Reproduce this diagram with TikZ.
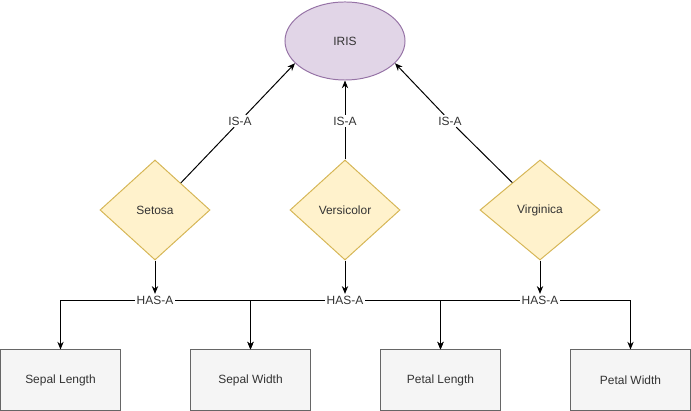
\documentclass[tikz,border=0pt]{standalone}
\usepackage{fontspec}
\setmainfont{Liberation Sans}
\usepackage{xcolor}
\usetikzlibrary{shapes.geometric, positioning, arrows.meta, calc}

\definecolor{irisfill}{HTML}{E1D5E7}
\definecolor{irisline}{HTML}{9673A6}
\definecolor{kindfill}{HTML}{FFF2CC}
\definecolor{kindline}{HTML}{D6B656}
\definecolor{featfill}{HTML}{F5F5F5}
\definecolor{featline}{HTML}{666666}
\definecolor{txt}{HTML}{333333}

\begin{document}
\begin{tikzpicture}[x=0.025cm, y=-0.025cm, line width=0.7pt,
    font=\fontsize{8.5}{10}\selectfont, text=txt,
    root/.style={ellipse, draw=irisline, fill=irisfill, minimum width=3cm, minimum height=1.95cm},
    kind/.style={diamond, draw=kindline, fill=kindfill, inner sep=0pt, minimum height=2.5cm},
    feat/.style={rectangle, draw=featline, fill=featfill, minimum width=3cm, minimum height=1.5cm},
    rel/.style={fill=white, inner sep=1pt},
    link/.style={-{Stealth[length=5.5pt, width=4.5pt]}}]
    % Frame of the picture
    \useasboundingbox (0,0) rectangle (691,411);

    % Top class
    \node[root] (iris) at (345,41) {IRIS};

    % Species
    \node[kind, minimum width=2.75cm] (setosa) at (155,210) {Setosa};
    \node[kind, minimum width=2.75cm] (versi) at (345,210) {Versicolor};
    \node[kind, minimum width=3cm] (virgi) at (540,210) {Virginica};

    % IS-A labels
    \node[rel] (isaA) at (240,121) {IS-A};
    \node[rel] (isaB) at (345,121) {IS-A};
    \node[rel] (isaC) at (450,121) {IS-A};

    % IS-A links
    \draw (setosa) -- (isaA);
    \draw[link] (isaA) -- (iris.204);
    \draw (versi) -- (isaB);
    \draw[link] (isaB) -- (iris.south);
    \draw (virgi) -- (isaC);
    \draw[link] (isaC) -- (iris.336);

    % Features
    \node[feat] (sepL) at (60.5,380) {Sepal Length};
    \node[feat] (sepW) at (250.5,380) {Sepal Width};
    \node[feat] (petL) at (440.5,380) {Petal Length};
    \node[feat] (petW) at (630.5,380) {Petal Width};

    % HAS-A labels
    \node[rel] (hasA) at (155,300) {HAS-A};
    \node[rel] (hasB) at (345,300) {HAS-A};
    \node[rel] (hasC) at (540,300) {HAS-A};

    % HAS-A links
    \draw[link] (setosa.south) -- (hasA);
    \draw[link] (versi.south) -- (hasB);
    \draw[link] (virgi.south) -- (hasC);
    \draw[link] (hasA.west) -| (sepL.north);
    \draw[link] (hasA.east) -| (sepW.north);
    \draw[link] (hasB.west) -| (sepW.north);
    \draw[link] (hasB.east) -| (petL.north);
    \draw[link] (hasC.west) -| (petL.north);
    \draw[link] (hasC.east) -| (petW.north);
\end{tikzpicture}
\end{document}
